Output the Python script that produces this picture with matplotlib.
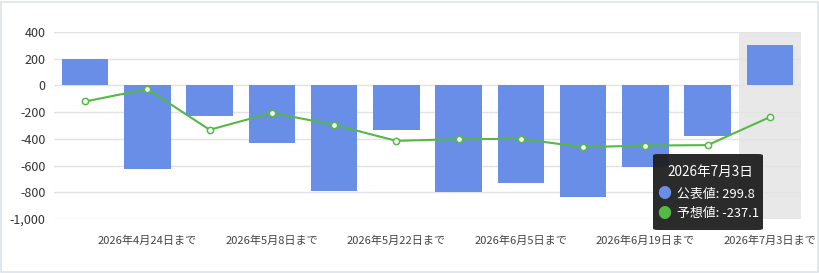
import matplotlib
matplotlib.use("Agg")
import matplotlib.pyplot as plt
from matplotlib.patches import FancyBboxPatch, Rectangle
import numpy as np

plt.rcParams['font.family'] = ['Noto Sans CJK JP', 'DejaVu Sans']

categories = ["2026年4月17日まで", "2026年4月24日まで", "2026年5月1日まで", "2026年5月8日まで",
              "2026年5月15日まで", "2026年5月22日まで", "2026年5月29日まで", "2026年6月5日まで",
              "2026年6月12日まで", "2026年6月19日まで", "2026年6月26日まで", "2026年7月3日まで"]
actual = [195, -625, -230, -432, -791, -335, -795, -732, -837, -612, -377, 299.8]
forecast = [-120, -27, -332, -205, -295, -415, -402, -400, -462, -450, -447, -237.1]
yticks = [400, 200, 0, -200, -400, -600, -800, -1000]

W, H = 820, 273
fig = plt.figure(figsize=(W/100, H/100), dpi=100)
fig.patch.set_facecolor('white')
# outer border
fig.add_artist(Rectangle((1/W, 1/H), 1-2.5/W, 1-2.5/H, transform=fig.transFigure,
                         fill=False, edgecolor='#dbe3ec', linewidth=1.2))

left, right, top, bottom = 54, 801, 32, 219
ax = fig.add_axes([left/W, 1-bottom/H, (right-left)/W, (bottom-top)/H])
x = np.arange(len(categories))
ax.set_xlim(-0.5, len(categories)-0.5)
ax.set_ylim(-1000, 400)

# highlight band for hovered category
ax.axvspan(len(categories)-1.5, len(categories)-0.5, color='#e8e8e8', zorder=0, lw=0)

ax.set_yticks(yticks)
ax.set_yticklabels([f"{v:,}" for v in yticks], fontsize=9, color='#333')
ax.yaxis.grid(True, color='#e3e3e3', linewidth=1)
ax.set_axisbelow(True)

ax.bar(x, actual, width=0.75, color='#688ee8', zorder=2)
ax.plot(x, forecast, color='#55b946', linewidth=1.5, zorder=3,
        marker='o', markersize=4.5, markerfacecolor='white', markeredgecolor='#55b946',
        markeredgewidth=1.1)

ax.set_xticks(x[1::2])
ax.set_xticklabels(categories[1::2], fontsize=8, color='#444')
ax.tick_params(axis='both', length=0)
ax.tick_params(axis='x', pad=12)
ax.tick_params(axis='y', pad=6)
for s in ax.spines.values():
    s.set_visible(False)

# tooltip
tx0, ty0, tx1, ty1 = 653, 154, 763, 230
box = FancyBboxPatch((tx0/W, 1-ty1/H), (tx1-tx0)/W, (ty1-ty0)/H,
                     boxstyle="round,pad=0,rounding_size=0.006",
                     transform=fig.transFigure, facecolor='#1f1f1f', edgecolor='none',
                     alpha=0.95, zorder=10)
fig.add_artist(box)
fig.text(667/W, 1-172/H, "2026年7月3日", color='white', fontsize=9.8, va='center', ha='left', zorder=11)
fig.text(664/W, 1-194/H, "●", color='#688ee8', fontsize=10, va='center', ha='center', zorder=11)
fig.text(677/W, 1-194/H, f"公表値: {actual[-1]}", color='white', fontsize=9.3, va='center', ha='left', zorder=11)
fig.text(664/W, 1-214/H, "●", color='#55b946', fontsize=10, va='center', ha='center', zorder=11)
fig.text(677/W, 1-214/H, f"予想値: {forecast[-1]}", color='white', fontsize=9.3, va='center', ha='left', zorder=11)

fig.savefig("out.png", dpi=100)
